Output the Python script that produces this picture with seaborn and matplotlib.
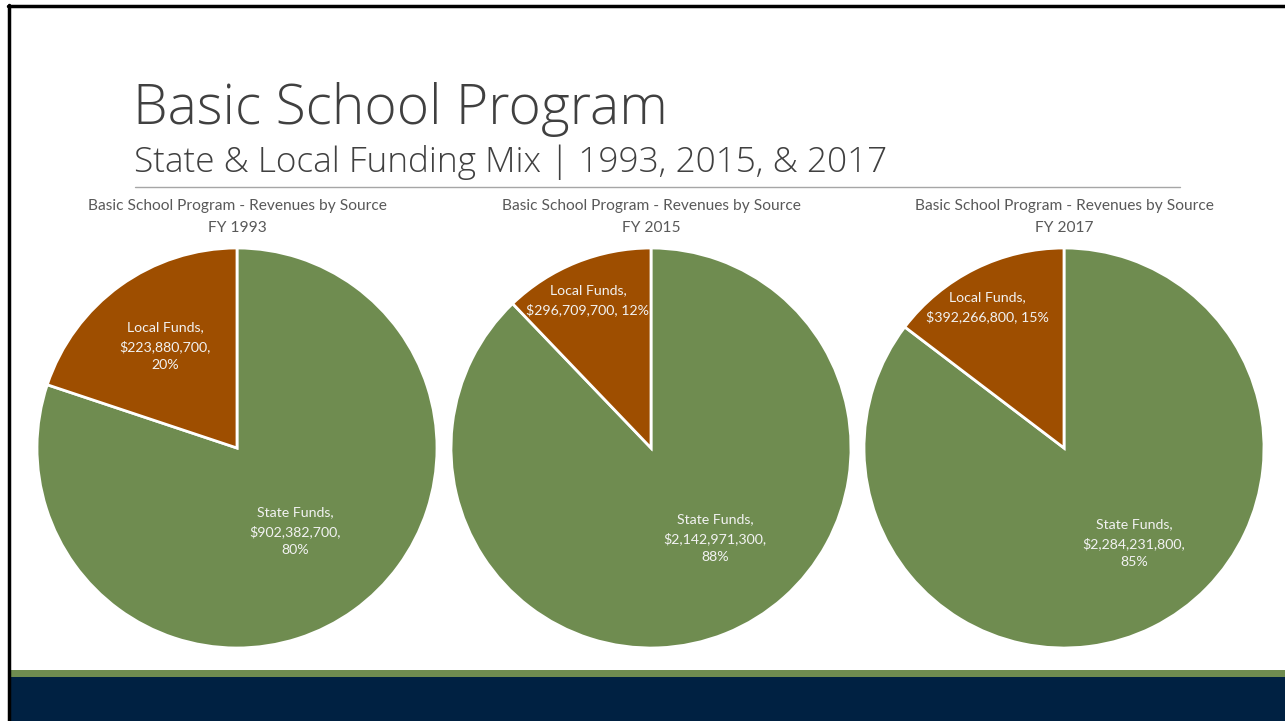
import matplotlib
matplotlib.use("Agg")
import matplotlib.pyplot as plt
from matplotlib.lines import Line2D
from matplotlib.patches import Rectangle
import seaborn as sns

sns.set_theme(style="white")
plt.rcParams["font.family"] = ["Lato", "DejaVu Sans"]

# Revenue data by fiscal year
years = ["FY 1993", "FY 2015", "FY 2017"]
sources = ["State Funds", "Local Funds"]
state_funds = [902382700, 2142971300, 2284231800]
local_funds = [223880700, 296709700, 392266800]

# label text placement (pie-relative coordinates, radius = 1)
local_label_xy = [(-0.36, 0.51), (-0.315, 0.74), (-0.385, 0.705)]
state_label_xy = [(0.29, -0.415), (0.32, -0.45), (0.35, -0.475)]
local_label_wrap = [True, False, False]

W, H = 1285, 721
fig = plt.figure(figsize=(W / 100, H / 100), dpi=100)
fig.patch.set_facecolor("white")

green = "#6F8C50"
brown = "#9E4E00"
navy = "#002142"
title_gray = "#404040"
small_gray = "#595959"


def fx(x):
    return x / W


def fy(y):
    return 1 - y / H


# slide frame
fig.add_artist(Line2D([fx(9), fx(9)], [fy(5), 0], color="black", lw=2.5,
                      transform=fig.transFigure))
fig.add_artist(Line2D([fx(8), 1], [fy(6), fy(6)], color="black", lw=2.5,
                      transform=fig.transFigure))

# footer bands
fig.add_artist(Rectangle((fx(10), fy(677)), 1, 7 / H, color=green, lw=0,
                         transform=fig.transFigure))
fig.add_artist(Rectangle((fx(10), 0), 1, fy(677), color=navy, lw=0,
                         transform=fig.transFigure))

# slide heading
head_font = ["Open Sans", "DejaVu Sans"]
fig.text(fx(133), fy(124), "Basic School Program", fontsize=39.7,
         family=head_font, fontweight="light", color=title_gray,
         va="baseline", ha="left")
fig.text(fx(134), fy(172), "State & Local Funding Mix | 1993, 2015, & 2017",
         fontsize=25.4, family=head_font, fontweight="light", color=title_gray,
         va="baseline", ha="left")
fig.add_artist(Line2D([fx(135), fx(1180)], [fy(187), fy(187)],
                      color="#A6A6A6", lw=1, transform=fig.transFigure))


def fmt_money(v):
    return "${:,.0f}".format(v)


centers = [237, 651, 1064]
radius = 200
for i, cx in enumerate(centers):
    cy = 448
    ax = fig.add_axes([fx(cx - radius), fy(cy + radius),
                       2 * radius / W, 2 * radius / H])
    vals = [state_funds[i], local_funds[i]]
    ax.pie(vals, colors=[green, brown], startangle=90, counterclock=False,
           wedgeprops=dict(edgecolor="white", linewidth=2), radius=1)
    ax.set_xlim(-1, 1)
    ax.set_ylim(-1, 1)
    ax.set_aspect("equal")
    ax.axis("off")

    total = sum(vals)
    pct_state = round(100 * state_funds[i] / total)
    pct_local = round(100 * local_funds[i] / total)

    if local_label_wrap[i]:
        ltxt = f"{sources[1]},\n{fmt_money(local_funds[i])},\n{pct_local}%"
    else:
        ltxt = f"{sources[1]},\n{fmt_money(local_funds[i])}, {pct_local}%"
    stxt = f"{sources[0]},\n{fmt_money(state_funds[i])},\n{pct_state}%"

    ax.text(*local_label_xy[i], ltxt, ha="center", va="center",
            color="#F2F2F2", fontsize=10.2, linespacing=1.6)
    ax.text(*state_label_xy[i], stxt, ha="center", va="center",
            color="#F2F2F2", fontsize=10.2, linespacing=1.6)

    fig.text(fx(cx), fy(206), "Basic School Program - Revenues by Source",
             ha="center", va="center", fontsize=11.2, color=small_gray)
    fig.text(fx(cx), fy(228), years[i], ha="center", va="center",
             fontsize=11.2, color=small_gray)

fig.savefig("out.png", dpi=100, facecolor="white")
